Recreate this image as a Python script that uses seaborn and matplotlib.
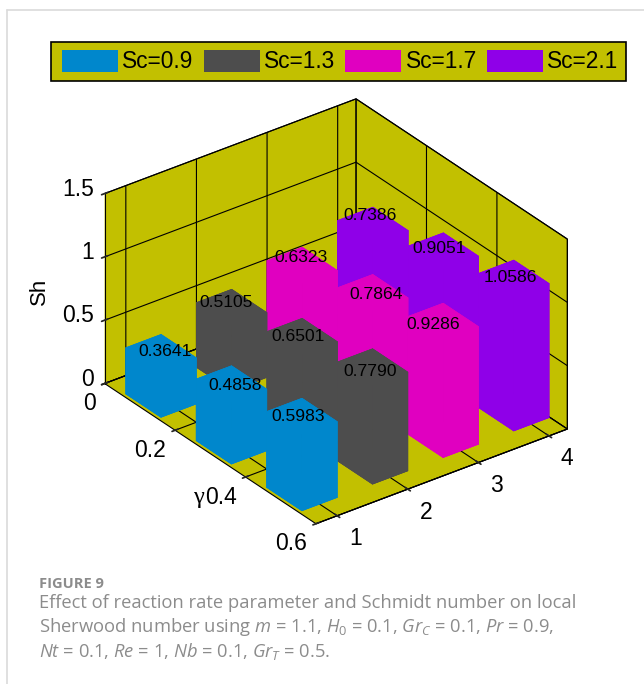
import numpy as np
import matplotlib
matplotlib.use('Agg')
import matplotlib.pyplot as plt
from matplotlib.lines import Line2D
from matplotlib.patches import Patch, Rectangle
from matplotlib.transforms import offset_copy
from mpl_toolkits.mplot3d import proj3d
import seaborn as sns

#-------------------------------------------------------
l_gamma=[0.1, 0.3, 0.5]
l_x=[1, 2, 3, 4]
l_name=['Sc=0.9', 'Sc=1.3', 'Sc=1.7', 'Sc=2.1']
sh_g1=[0.3641, 0.5105, 0.6323, 0.7386]
sh_g2=[0.4858, 0.6501, 0.7864, 0.9051]
sh_g3=[0.5983, 0.7790, 0.9286, 1.0586]
l_xtick=[1, 2, 3, 4]
l_ytick=[0, 0.2, 0.4, 0.6]
l_ztick=[0, 0.5, 1, 1.5]
l_ylab=['0', '0.2', '0.4', '0.6']
l_zlab=['0', '0.5', '1', '1.5']
l_color=['#0087CC', '#4D4D4D', '#E000C0', '#8F00E8']
c_bg='#C2C000'
c_cap='#8C8C8C'
ft='Liberation Sans'

#nudge of the value labels, px
d_dx=[[4, -6, -1, -3], [4, -4, 3, -4], [-4, -2, -10, -3]]
d_dy=[[-1, -5, -8, -10], [1, 0, 2, -3], [0, 4, 3, -1]]

#-------------------------------------------------------
sns.set_theme(style='white')
plt.rcParams['font.family']=[ft, 'DejaVu Sans']
plt.rcParams['mathtext.fontset']='custom'
plt.rcParams['mathtext.rm']='Open Sans'
plt.rcParams['mathtext.it']='Open Sans:italic'
plt.rcParams['mathtext.bf']='Open Sans:bold'
cmap=sns.color_palette(l_color)

W, H=644, 684
fig=plt.figure(figsize=(W/100, H/100), dpi=100, facecolor='white')
ax=fig.add_axes([5.3/W, 42/H, 1, W/H], projection='3d', computed_zorder=False)
ax.patch.set_alpha(0)
ax.set_proj_type('ortho')
ax.view_init(elev=30, azim=-127)
ax.set_box_aspect((314.3, 350.6, 219), zoom=0.784)

#axes
x0, x1=0.70, 4.26
ax.set_xlim(x0, x1)
ax.set_ylim(0.6, 0)
ax.set_zlim(0, 1.5)
ax.set_xticks(l_xtick)
ax.set_yticks(l_ytick)
ax.set_zticks(l_ztick)
ax.set_xticklabels([])
ax.set_yticklabels([])
ax.set_zticklabels([])
for axis in [ax.xaxis, ax.yaxis, ax.zaxis]:
	axis.set_pane_color(c_bg)
	axis.pane.set_edgecolor('black')
	axis.pane.set_linewidth(0.8)
	axis.line.set_color('black')
	axis.line.set_linewidth(0.8)
	axis._axinfo['grid'].update(color='black', linewidth=0.8, linestyle='-')
	axis._axinfo['tick'].update(inward_factor=0.15, outward_factor=0.15)
ax.grid(True)

#bars
xs, ys, ds, cs=[], [], [], []
for g, l_sh in zip(l_gamma, [sh_g1, sh_g2, sh_g3]):
	for x, sh, c in zip(l_x, l_sh, cmap):
		xs.append(x-0.25)
		ys.append(g-0.05)
		ds.append(sh)
		cs.append(c)
n=len(xs)
ax.bar3d(xs, ys, np.zeros(n), [0.5]*n, [0.1]*n, ds, color=cs, shade=False, zorder=2,
	edgecolor=np.repeat(cs, 6, axis=0), linewidth=0.5)

#text at a 3d point, shifted by px
M=ax.get_proj()
def put(x, y, z, s, dx, dy, **kw):
	x2, y2, _=proj3d.proj_transform(x, y, z, M)
	tr=offset_copy(ax.transData, fig=fig, x=dx, y=-dy, units='dots')
	ax.text2D(x2, y2, s, color='black', va='center', zorder=5, transform=tr, **kw)

#value labels
for g, l_sh, l_dx, l_dy in zip(l_gamma, [sh_g1, sh_g2, sh_g3], d_dx, d_dy):
	for x, sh, dx, dy in zip(l_x, l_sh, l_dx, l_dy):
		put(x, g, sh, f'{sh:.4f}', dx, dy, fontsize=12.6, ha='center')

#tick labels
for x in l_xtick:
	put(x, 0.6, 0, str(x), 18, 23, fontsize=16.5, ha='center')
for y, s in zip(l_ytick, l_ylab):
	put(x0, y, 0, s, -9, 20, fontsize=16.5, ha='right')
for z, s in zip(l_ztick, l_zlab):
	put(x0, 0, z, s, -10.5, -4.5, fontsize=16.5, ha='right')

fig.text(39/W, 1-291/H, 'Sh', rotation=90, fontsize=16, ha='center', va='center', color='black')
fig.text(198.5/W, 1-497/H, 'γ', fontsize=17.5, family='Liberation Serif', ha='center', va='center', color='black')

#legend
fig.add_artist(Rectangle((51/W, 1-81/H), 575/W, 39/H, transform=fig.transFigure, facecolor=c_bg, edgecolor='black', lw=1.2))
h=[Patch(facecolor=c, edgecolor='none') for c in cmap]
leg=fig.legend(h, l_name, ncol=4, loc='center left', bbox_to_anchor=(62/W, 1-61.5/H), fontsize=16.4,
	handlelength=2.45, handleheight=1.12, handletextpad=0.2, columnspacing=0.44, borderpad=0, borderaxespad=0,
	frameon=False, labelcolor='black')

#card frame
fig.add_artist(Line2D([7/W, 1], [1-10/H, 1-10/H], color='#DADADA', lw=1.2))
fig.add_artist(Line2D([7/W, 7/W], [0, 1-10/H], color='#DADADA', lw=1.2))

#caption
fig.text(39/W, 1-584/H, 'FIGURE 9', fontsize=10.5, family='Open Sans', weight='bold', color=c_cap, ha='left', va='center')
cap1='Effect of reaction rate parameter and Schmidt number on local'
cap2=r'Sherwood number using $m$ = 1.1, $H_0$ = 0.1, $Gr_C$ = 0.1, $Pr$ = 0.9,'
cap3=r'$Nt$ = 0.1, $Re$ = 1, $Nb$ = 0.1, $Gr_T$ = 0.5.'
for y, s in zip([603, 627, 651], [cap1, cap2, cap3]):
	fig.text(39/W, 1-y/H, s, fontsize=13.2, family='Open Sans', color=c_cap, ha='left', va='center')

plt.savefig('out.png', dpi=100)
plt.close()
